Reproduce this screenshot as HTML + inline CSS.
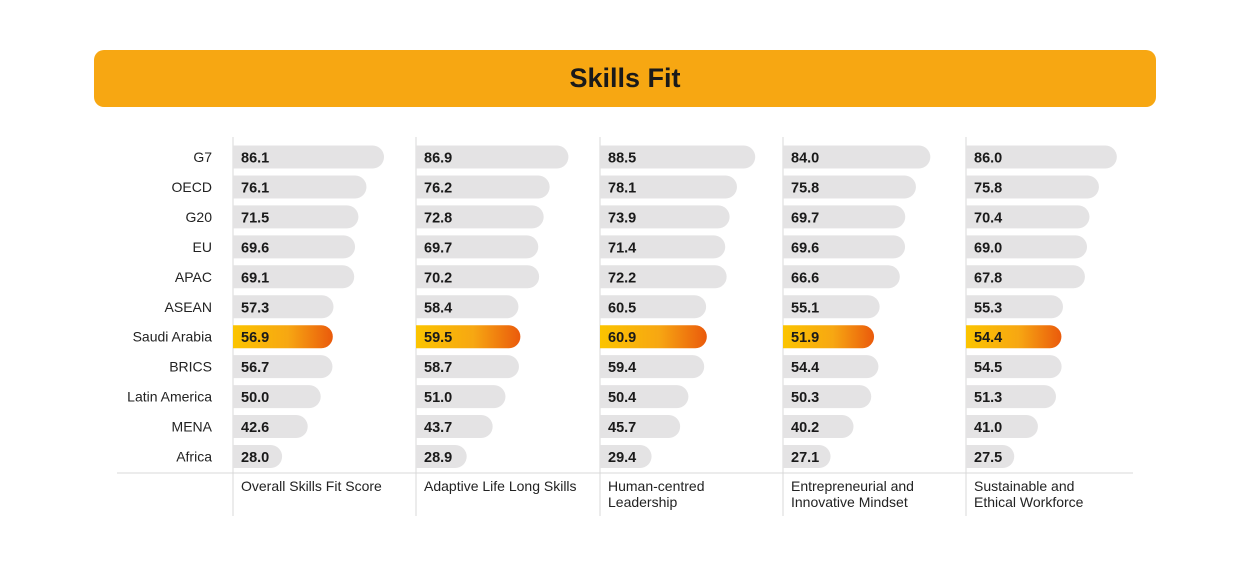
<!DOCTYPE html>
<html><head><meta charset="utf-8"><style>
body{margin:0;background:#fff;width:1250px;height:566px;overflow:hidden;font-family:"Liberation Sans",sans-serif}
#title{position:absolute;left:94px;top:50px;width:1062px;height:57px;background:#F7A712;border-radius:10px;text-align:center;line-height:57px;font-size:27px;font-weight:bold;color:#1a1a1a}
</style></head><body>
<div id="title">Skills Fit</div>
<svg id="chart" width="1250" height="566" style="position:absolute;left:0;top:0">
<defs><linearGradient id="hl" x1="0" x2="1"><stop offset="0" stop-color="#FBC400"/><stop offset="0.55" stop-color="#F7A712"/><stop offset="1" stop-color="#EA5A0C"/></linearGradient></defs>
</svg>
<script>
const categories=["G7","OECD","G20","EU","APAC","ASEAN","Saudi Arabia","BRICS","Latin America","MENA","Africa"];
const seriesNames=[["Overall Skills Fit Score"],["Adaptive Life Long Skills"],["Human-centred","Leadership"],["Entrepreneurial and","Innovative Mindset"],["Sustainable and","Ethical Workforce"]];
const overall=[86.1,76.1,71.5,69.6,69.1,57.3,56.9,56.7,50.0,42.6,28.0];
const adaptive=[86.9,76.2,72.8,69.7,70.2,58.4,59.5,58.7,51.0,43.7,28.9];
const leadership=[88.5,78.1,73.9,71.4,72.2,60.5,60.9,59.4,50.4,45.7,29.4];
const entrepreneurial=[84.0,75.8,69.7,69.6,66.6,55.1,51.9,54.4,50.3,40.2,27.1];
const sustainable=[86.0,75.8,70.4,69.0,67.8,55.3,54.4,54.5,51.3,41.0,27.5];
const series=[overall,adaptive,leadership,entrepreneurial,sustainable];
const highlight="Saudi Arabia";
const svg=document.getElementById('chart');const NS="http://www.w3.org/2000/svg";
const colX=[233,416,600,783,966];
const scale=v=>v*1.754;
const rowY=i=>157+i*29.95;
function mk(t,a,p){const e=document.createElementNS(NS,t);for(const k in a)e.setAttribute(k,a[k]);(p||svg).appendChild(e);return e;}
let hl=mk('line',{x1:117,x2:1133,y1:473,y2:473,stroke:'#d9d9d9','stroke-width':1});


categories.forEach((c,i)=>{
 const t=mk('text',{x:212,y:rowY(i)+5,'text-anchor':'end','font-size':14,fill:'#222'});t.textContent=c;
 
 
});
series.forEach((vals,s)=>{
 const x0=colX[s];
 const ax=mk('line',{x1:x0,x2:x0,y1:137,y2:516,stroke:'#d9d9d9','stroke-width':1});
 
 
 vals.forEach((v,i)=>{
  const w=scale(v),y=rowY(i)-11.5,h=23,r=11.5;
  const isH=categories[i]===highlight;
  const p=mk('path',{d:`M${x0},${y}H${x0+w-r}A${r},${r} 0 0 1 ${x0+w-r},${y+h}H${x0}Z`,fill:isH?'url(#hl)':'#e4e3e4'});
  
  
  const t=mk('text',{x:x0+8,y:rowY(i)+5.5,'font-size':14.5,'font-weight':'bold',fill:'#1a1a1a'});t.textContent=v.toFixed(1);
  
  
 });
 seriesNames[s].forEach((ln,k)=>{
  const t=mk('text',{x:x0+8,y:491+k*16,'font-size':14,fill:'#222'});t.textContent=ln;
  
  
 });
});
</script>
</body></html>
